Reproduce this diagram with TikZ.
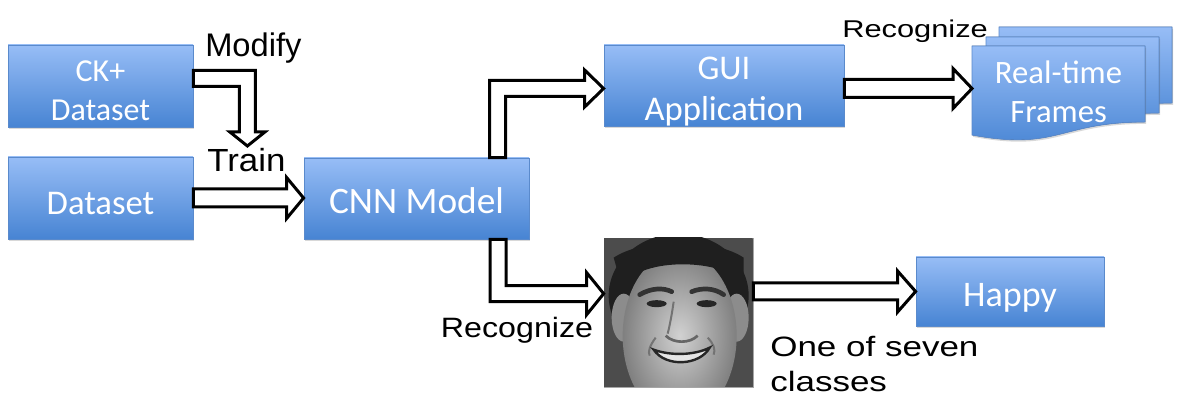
\documentclass[tikz,border=0pt]{standalone}
\usepackage{fontspec}
\usepackage{graphicx}
\setmainfont{Liberation Sans}
\newfontfamily\boxfont{Carlito}
\usetikzlibrary{calc,shadows}
\definecolor{boxtop}{HTML}{97BDF6}
\definecolor{boxbot}{HTML}{4784D3}
\definecolor{boxedge}{HTML}{5A8ACC}
\newcommand{\fsz}[1]{\fontsize{#1}{1.2\dimexpr#1\relax}\selectfont}
\newcommand{\dn}[2]{\raisebox{-#1}[\height][\depth]{#2}}
% straight block arrow: start, tip, shaft half width, head half width, head length
\newcommand{\harrow}[5]{%
  \draw[blockarrow] ($(#1)+(0,-#3)$) -- ($(#2)+(-#5,-#3)$) -- ($(#2)+(-#5,-#4)$) -- (#2)
    -- ($(#2)+(-#5,#4)$) -- ($(#2)+(-#5,#3)$) -- ($(#1)+(0,#3)$) -- cycle;}
\newcommand{\docpath}[2]{(#1,#2) -- ({#1+173},#2) -- ({#1+173},{#2+76})
   .. controls ({#1+86.5},{#2+76}) and ({#1+86.5},{#2+105}) .. (#1,{#2+89}) -- cycle}
\begin{document}
\begin{tikzpicture}[x=0.75pt,y=-0.75pt,
  bluebox/.style={draw=boxedge, line width=0.6pt, top color=boxtop, bottom color=boxbot,
    text=white, inner sep=0pt, align=center,
    drop shadow={opacity=0.3, shadow xshift=0.8pt, shadow yshift=-1.4pt}},
  bluedoc/.style={draw=boxedge, line width=0.6pt, top color=boxtop, bottom color=boxbot,
    drop shadow={opacity=0.3, shadow xshift=0.8pt, shadow yshift=-1.4pt}},
  blockarrow/.style={draw=black, fill=white, line width=2.25pt, line join=miter, miter limit=10},
  lbl/.style={inner sep=0pt, anchor=base west, text=black}]
\useasboundingbox (0,0) rectangle (1180,409);
\fill[white] (0,0) rectangle (1180,409);

% boxes
\node[bluebox, minimum width=138.75pt, minimum height=61.5pt,
  font=\boxfont\fontsize{24pt}{29.25pt}\selectfont] (ck) at (100.5,86) {\dn{3.75pt}{CK+}\\\dn{3.75pt}{Dataset}};
\node[bluebox, minimum width=138.75pt, minimum height=61.5pt,
  font=\boxfont\fsz{26pt}] (ds) at (100.5,198) {\dn{4pt}{Dataset}};
\node[bluebox, minimum width=168.75pt, minimum height=60.75pt,
  font=\boxfont\fsz{28pt}] (cnn) at (416.5,198.5) {\dn{1.5pt}{CNN Model}};
\node[bluebox, minimum width=180pt, minimum height=60.75pt,
  font=\boxfont\fontsize{26pt}{30.75pt}\selectfont] (gui) at (724,85.5) {\dn{4.5pt}{GUI}\\\dn{4.5pt}{Application}};
\node[bluebox, minimum width=141pt, minimum height=51.75pt,
  font=\boxfont\fsz{27pt}] (happy) at (1010,291.5) {\dn{4.5pt}{Happy}};

% stacked documents
\fill[bluedoc] \docpath{999}{27};
\fill[bluedoc] \docpath{986}{37};
\fill[bluedoc] \docpath{972}{46};
\coordinate (frnw) at (972,46);
\node[text=white, align=center, inner sep=0pt,
  font=\boxfont\fontsize{24.5pt}{29.25pt}\selectfont] (frames) at (1058.5,92) {Real-time\\Frames};

% face picture
\node[draw=gray!70, line width=0.5pt, minimum size=111.75pt, inner sep=0pt, fill=black!68] (face) at (678.5,312.5) {};
\begin{scope}[shift={(face.north west)}]
  \clip (0,0) rectangle (149,149);
  \fill[black!70] (0,0) rectangle (149,149);
  \fill[black!88] (75,58) ellipse [x radius=70, y radius=62];
  \fill[black!45] (20,80) ellipse [x radius=12, y radius=24];
  \fill[black!45] (133,80) ellipse [x radius=12, y radius=24];
  \shade[inner color=black!18, outer color=black!50] (76,98) ellipse [x radius=57, y radius=84];
  \fill[black!88] (10,20) .. controls (40,0) and (110,0) .. (140,20) -- (140,45)
     .. controls (120,22) and (40,18) .. (18,48) -- cycle;
  \draw[black!80, line width=3.5pt, line cap=round] (36,57) .. controls (48,50) and (60,50) .. (68,54);
  \draw[black!80, line width=3.5pt, line cap=round] (88,54) .. controls (98,50) and (110,50) .. (120,57);
  \fill[black!85] (53,66) ellipse [x radius=10, y radius=3.5];
  \fill[black!85] (103,66) ellipse [x radius=10, y radius=3.5];
  \draw[black!55, line width=1.5pt] (70,64) .. controls (68,78) and (66,88) .. (64,96);
  \draw[black!60, line width=2pt] (62,98) .. controls (70,106) and (86,106) .. (94,98);
  \draw[black!55, line width=1.5pt] (52,100) .. controls (46,108) and (44,114) .. (46,118);
  \draw[black!55, line width=1.5pt] (104,100) .. controls (110,106) and (112,112) .. (110,117);
  \filldraw[fill=black!10, draw=black!85, line width=1.8pt] (50,112) .. controls (66,118) and (90,118) .. (106,110)
     .. controls (96,128) and (62,130) .. (50,112) -- cycle;
\end{scope}

% arrows
\coordinate (m0) at ($(ck.east)+(0,-7.5)$);
\coordinate (mtip) at ($(ck.east)+(54,60)$);
\draw[blockarrow] ($(m0)+(0,-8)$) -- ($(mtip|-m0)+(8,-8)$) -- ($(mtip)+(8,-14)$) -- ($(mtip)+(17.5,-14)$)
  -- (mtip) -- ($(mtip)+(-17.5,-14)$) -- ($(mtip)+(-8,-14)$) -- ($(mtip|-m0)+(-8,8)$) -- ($(m0)+(0,8)$) -- cycle;

\harrow{ds.east}{ds.east -| cnn.west}{9}{20.5}{17}

\coordinate (e1) at ($(cnn.north)+(81,0)$);
\coordinate (t1) at ($(gui.west)+(0,3)$);
\draw[blockarrow] ($(e1)+(-8,0)$) -- ($(e1|-t1)+(-8,-8)$) -- ($(t1)+(-19,-8)$) -- ($(t1)+(-19,-18.5)$)
  -- (t1) -- ($(t1)+(-19,18.5)$) -- ($(t1)+(-19,8)$) -- ($(e1|-t1)+(8,8)$) -- ($(e1)+(8,0)$) -- cycle;

\coordinate (fin) at ($(frnw)+(0,42.5)$);
\harrow{gui.east |- fin}{fin}{9}{20}{19}

\coordinate (e2) at ($(cnn.south)+(81.5,0)$);
\coordinate (t2) at ($(face.north west)+(0,56)$);
\draw[blockarrow] ($(e2)+(-8,0)$) -- ($(e2|-t2)+(-8,8)$) -- ($(t2)+(-17,8)$) -- ($(t2)+(-17,21)$)
  -- (t2) -- ($(t2)+(-17,-21)$) -- ($(t2)+(-17,-8)$) -- ($(e2|-t2)+(8,-8)$) -- ($(e2)+(8,0)$) -- cycle;

\harrow{face.east |- happy.west}{happy.west}{8.5}{20.5}{18}

% labels
\node[lbl, font=\fsz{24.5pt}] (lmod) at (205,57) {Modify};
\node[lbl, font=\fsz{24pt}] (ltrain) at (207,172) {\scalebox{1.09}[1]{Train}};
\node[lbl, font=\fsz{18.2pt}] (lrec1) at (842,37.5) {\scalebox{1.27}[1]{Recognize}};
\node[lbl, font=\fsz{21pt}] (lrec2) at (440.7,337.7) {\scalebox{1.15}[1]{Recognize}};
\node[lbl, font=\fontsize{21pt}{26.25pt}\selectfont, align=left] (lone) at (770,391)
  {\scalebox{1.25}[1]{One of seven}\\\scalebox{1.25}[1]{classes}};
\end{tikzpicture}
\end{document}
